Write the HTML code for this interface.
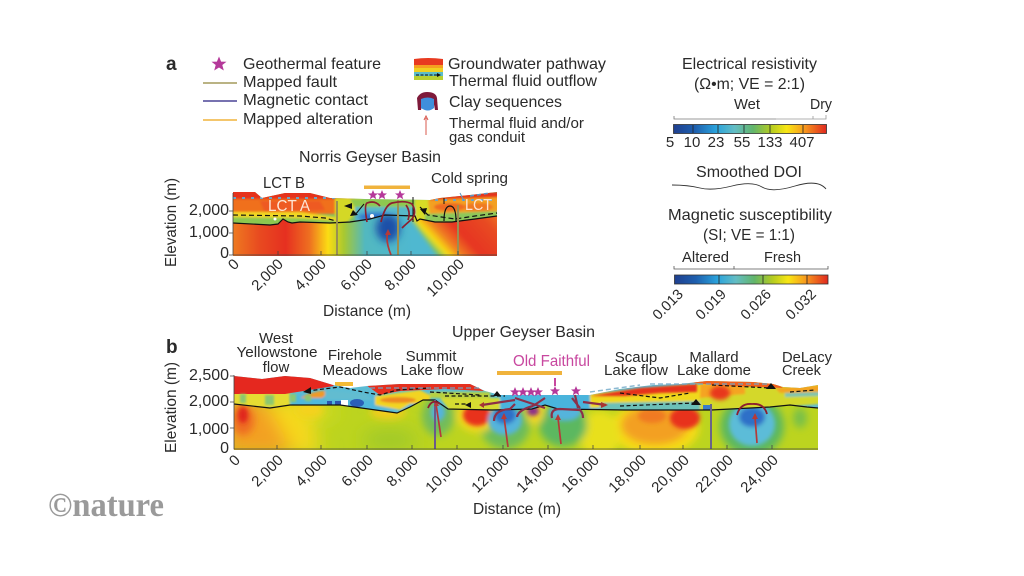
<!DOCTYPE html>
<html><head><meta charset="utf-8"><style>
html,body{margin:0;padding:0;background:#fff}
svg{display:block}
text{font-family:"Liberation Sans",sans-serif;font-size:16px;fill:#2a2a2a}
.m{font-size:15px}
.t text{font-size:15px}
.u text{font-size:14.5px}
</style></head><body>
<svg width="1024" height="576" viewBox="0 0 1024 576" xmlns="http://www.w3.org/2000/svg">
<defs>
<linearGradient id="cb"><stop offset="0" stop-color="#1f3f8f"/><stop offset=".14" stop-color="#1e5fae"/><stop offset=".28" stop-color="#2aa3dc"/><stop offset=".4" stop-color="#63bdc4"/><stop offset=".52" stop-color="#62b56b"/><stop offset=".64" stop-color="#b5cc20"/><stop offset=".74" stop-color="#f8e614"/><stop offset=".86" stop-color="#f7961e"/><stop offset="1" stop-color="#e0281f"/></linearGradient>
<linearGradient id="abg"><stop offset="0" stop-color="#ef7a20"/><stop offset=".1" stop-color="#e84a20"/><stop offset=".2" stop-color="#e63020"/><stop offset=".29" stop-color="#ee7020"/><stop offset=".36" stop-color="#fbdc14"/><stop offset=".42" stop-color="#a8c830"/><stop offset=".5" stop-color="#52b8c0"/><stop offset=".68" stop-color="#4fb8d0"/><stop offset="1" stop-color="#4fb8d0"/></linearGradient>
<linearGradient id="adg" x1="418" y1="232" x2="478" y2="177" gradientUnits="userSpaceOnUse"><stop offset="0" stop-color="#7cc060"/><stop offset=".08" stop-color="#f8e014"/><stop offset=".2" stop-color="#f08020"/><stop offset=".38" stop-color="#e63420"/><stop offset=".7" stop-color="#e84a20"/><stop offset="1" stop-color="#f09020"/></linearGradient>
<filter id="b2" x="-30%" y="-30%" width="160%" height="160%"><feGaussianBlur stdDeviation="2"/></filter>
<filter id="b1" x="-30%" y="-30%" width="160%" height="160%"><feGaussianBlur stdDeviation="1"/></filter>
<filter id="b4" x="-50%" y="-50%" width="200%" height="200%"><feGaussianBlur stdDeviation="4"/></filter>
<filter id="b9" x="-60%" y="-60%" width="220%" height="220%"><feGaussianBlur stdDeviation="9"/></filter>
<clipPath id="ca"><path d="M233,192 L255,192 262,198 285,193 310,193 330,198 365,199 430,200 440,198 470,195 497,192 497,255 233,255Z"/></clipPath>
<clipPath id="cal"><path d="M233,223 L270,225 278,224 283,219 288,222 292,223 300,222 330,223 350,222 370,219 385,215 415,216 417,221 420,219 425,220 435,222 452,222 475,219 497,216 V256 H233Z"/></clipPath>
<clipPath id="cb1"><path d="M234,376 262,379 285,376 310,378 333,385 350,388 367,386 400,384 470,384 485,391 500,395 590,395 620,389 653,385 680,384 707,381 753,382 773,384 783,387 800,388 818,385 818,449 234,449Z"/></clipPath>
<clipPath id="cbl"><path d="M234,404 270,408 290,405 340,405 397,413 410,407 423,400 435,400 448,409 492,410 532,409 545,405 558,409 625,410 711,410 770,407 790,405 807,407 818,408 V450 H234Z"/></clipPath>
<path id="s" d="M0,-5 L1.4,-1.6 5,-1.5 2.2,0.7 3.2,4.3 0,2.3 -3.2,4.3 -2.2,0.7 -5,-1.5 -1.4,-1.6Z" fill="#b5399a"/>
</defs>

<!-- Legend a -->
<text x="166" y="70" style="font-weight:bold;font-size:19px">a</text>
<use href="#s" transform="translate(219,64) scale(1.5)"/>
<line x1="203" y1="83" x2="237" y2="83" stroke="#a39a5c" stroke-width="1.5"/>
<line x1="203" y1="101" x2="237" y2="101" stroke="#4a4396" stroke-width="1.5"/>
<line x1="203" y1="120" x2="237" y2="120" stroke="#f0b33c" stroke-width="1.5"/>
<text x="243" y="69" textLength="138" lengthAdjust="spacingAndGlyphs">Geothermal feature</text>
<text x="243" y="87" textLength="94" lengthAdjust="spacingAndGlyphs">Mapped fault</text>
<text x="243" y="105" textLength="125" lengthAdjust="spacingAndGlyphs">Magnetic contact</text>
<text x="243" y="124" textLength="130" lengthAdjust="spacingAndGlyphs">Mapped alteration</text>
<path d="M414,59 Q428,57 443,59 V80 H414Z" fill="#e83a20"/>
<rect x="414" y="65" width="29" height="4" fill="#f5a020"/>
<rect x="414" y="68" width="29" height="4" fill="#f0d020"/>
<rect x="414" y="72" width="29" height="4" fill="#5cbcc8"/>
<rect x="414" y="76" width="29" height="4" fill="#b8d030"/>
<line x1="416" y1="75" x2="438" y2="75" stroke="#111" stroke-width="1" stroke-dasharray="3 1.5"/>
<path d="M437,73 L441,75 437,77Z" fill="#111"/>
<path d="M418,110 L417,98 Q420,92 427,92 Q436,92 437,98 L438,110 L435,110 L433,99 L423,99 L421,110Z" fill="#7e1a3a"/>
<path d="M421,99 Q428,96 434,99 L434,108 Q428,113 421,108Z" fill="#3f8fdc"/>
<path d="M426,135 L426,118" stroke="#d8584e" stroke-width="1"/><path d="M424,120 L426,116 428,120" fill="none" stroke="#d8584e"/>
<text x="448" y="69" textLength="158" lengthAdjust="spacingAndGlyphs">Groundwater pathway</text>
<text x="449" y="86" textLength="148" lengthAdjust="spacingAndGlyphs">Thermal fluid outflow</text>
<text x="449" y="107" textLength="113" lengthAdjust="spacingAndGlyphs">Clay sequences</text>
<text x="449" y="128" textLength="135" lengthAdjust="spacingAndGlyphs" class="m">Thermal fluid and/or</text>
<text x="449" y="142" textLength="76" lengthAdjust="spacingAndGlyphs" class="m">gas conduit</text>

<!-- Panel a plot -->
<text x="299" y="162" textLength="142" lengthAdjust="spacingAndGlyphs">Norris Geyser Basin</text>
<text x="263" y="188" textLength="42" lengthAdjust="spacingAndGlyphs">LCT B</text>
<text x="431" y="183" textLength="77" lengthAdjust="spacingAndGlyphs" class="m">Cold spring</text>
<g clip-path="url(#ca)">
 <rect x="233" y="190" width="264" height="66" fill="#7cc068"/>
 <g filter="url(#b1)">
  <path d="M225,188 H345 L355,199 L340,214 L300,214 225,213Z" fill="#f0701f"/>
  <rect x="225" y="188" width="130" height="11" fill="#e5301f"/>
  <path d="M260,201 H320 L325,210 L265,213Z" fill="#ee5a20"/>
  <path d="M225,212 H300 L335,217 L335,224 H225Z" fill="#f2d820"/>
  <path d="M225,217 L300,218 340,221 V225 H225Z" fill="#8cc850"/>
  <path d="M335,198 H362 L362,206 L345,225 H335Z" fill="#d4d828"/>
  <path d="M350,199 H420 V208 L355,208Z" fill="#8ec850"/>
  <path d="M355,207 H415 V222 H355Z" fill="#58b8c8"/>
  <path d="M415,199 H440 L440,222 H415Z" fill="#d8dc28"/>
  <path d="M430,192 H500 V200 H430Z" fill="#e5301f"/>
  <path d="M428,200 L500,197 V219 L430,216Z" fill="#f3a020"/>
  <ellipse cx="450" cy="207" rx="16" ry="4" fill="#ee6a20"/>
  <ellipse cx="478" cy="207" rx="15" ry="4" fill="#f07a20"/>
  <path d="M425,214 L500,211 V222 L425,224Z" fill="#8cc85a"/>
 </g>
 <ellipse cx="378" cy="217" rx="20" ry="4" fill="#2c6fd0" filter="url(#b2)"/>
 <path d="M233,198 H340 M435,200 H497" stroke="#6fa4c4" stroke-width="2" stroke-dasharray="3 6"/>
</g>
<g clip-path="url(#cal)">
 <rect x="233" y="210" width="264" height="46" fill="url(#abg)"/>
 <path d="M405,210 H505 V262 H442Z" fill="url(#adg)" filter="url(#b2)"/>
 <ellipse cx="388" cy="228" rx="12" ry="14" fill="#1f4fa8" filter="url(#b4)"/>
</g>
<circle cx="372" cy="216" r="2" fill="#fff"/><circle cx="275" cy="219" r="1.500" fill="#fff"/>
<path d="M233,223 L270,225 278,224 283,219 288,222 292,223 300,222 330,223 350,222 370,219 385,215 415,216 417,221 420,219 425,220 435,222 452,222 475,219 497,216" fill="none" stroke="#111" stroke-width="1.2"/>
<path d="M233,215 L300,216 325,218 336,221 M420,207 L428,215 455,219 475,216 497,213" fill="none" stroke="#111" stroke-width="1.2" stroke-dasharray="5 3"/>
<path d="M444,221 Q444,206 450,206 Q456,206 456,221" fill="none" stroke="#111" stroke-width="1.2"/>
<path d="M413,197 V222 M444,198 V204" stroke="#111" stroke-width="1"/>
<path d="M337,201V255M398,200V255M458,205V255" stroke="#9a8f52" stroke-width="2"/>
<path d="M364,204 L355,215" fill="none" stroke="#111" stroke-width="1"/>
<path d="M344,206 L352,203 352,209Z M350,216 L358,215 353,210Z M425,215 L427,208 420,209Z" fill="#111"/>
<path d="M460,193 L464,201" stroke="#5a9ac8" stroke-width="1"/>
<path d="M470,196 L490,193" stroke="#5a9ac8" stroke-width="1.500" stroke-dasharray="4 3"/>
<path d="M367,222 Q364,205 367,203 Q375,200 380,206 M381,222 Q385,205 392,203 Q405,200 412,204 Q417,212 412,219 Q405,225 402,228 M406,205 Q411,212 408,220" fill="none" stroke="#8c1f2f" stroke-width="1.700"/>
<path d="M391,255 Q385,240 388,232" fill="none" stroke="#b53a38" stroke-width="1.700"/><path d="M385,235 L388,229 391,235Z" fill="#b53a38"/>
<rect x="364" y="185.500" width="46" height="3.500" fill="#f0b33c"/>
<use href="#s" transform="translate(373,195)"/><use href="#s" transform="translate(382,195)"/><use href="#s" transform="translate(400,195)"/>
<text x="268" y="211" textLength="42" lengthAdjust="spacingAndGlyphs" style="fill:#fde4d4">LCT A</text>
<text x="465" y="210" textLength="27" lengthAdjust="spacingAndGlyphs" style="fill:#fde4d4">LCT</text>
<path d="M233,193V255H497M229,211H233M229,233H233M229,255H233M278,251V255M321,251V255M367,251V255M411,251V255M458,251V255" fill="none" stroke="#444" stroke-width=".8"/>
<g text-anchor="end"><text x="229" y="215" textLength="40">2,000</text><text x="229" y="237" textLength="40">1,000</text><text x="229" y="258">0</text></g>
<text transform="translate(176,267) rotate(-90)" textLength="89" lengthAdjust="spacingAndGlyphs">Elevation (m)</text>
<g text-anchor="end" class="t">
<text transform="translate(240,265) rotate(-45)">0</text>
<text transform="translate(284,265) rotate(-45)">2,000</text>
<text transform="translate(327,265) rotate(-45)">4,000</text>
<text transform="translate(373,265) rotate(-45)">6,000</text>
<text transform="translate(417,265) rotate(-45)">8,000</text>
<text transform="translate(465,265) rotate(-45)">10,000</text>
</g>
<text x="323" y="316" textLength="88" lengthAdjust="spacingAndGlyphs">Distance (m)</text>

<!-- Right legends -->
<text x="682" y="69" textLength="135" lengthAdjust="spacingAndGlyphs">Electrical resistivity</text>
<text x="694" y="89" textLength="111" lengthAdjust="spacingAndGlyphs">(Ω•m; VE = 2:1)</text>
<text x="734" y="109" textLength="26" lengthAdjust="spacingAndGlyphs" class="m">Wet</text>
<text x="810" y="109" textLength="22" lengthAdjust="spacingAndGlyphs" class="m">Dry</text>
<path d="M674,116V119H776" fill="none" stroke="#777" stroke-width=".8"/><path d="M776,119H826V115M813,119V116" fill="none" stroke="#999" stroke-width=".8"/>
<rect x="673.500" y="124.500" width="153" height="9" fill="url(#cb)" stroke="#333" stroke-width=".8"/>
<path d="M693,125V133M718,125V133M744,125V133M770,125V133M803,125V133" stroke="#222" stroke-width=".8"/>
<g text-anchor="middle"><text class="m" x="670" y="147">5</text><text class="m" x="692" y="147">10</text><text class="m" x="716" y="147">23</text><text class="m" x="742" y="147">55</text><text class="m" x="770" y="147">133</text><text class="m" x="802" y="147">407</text></g>
<text x="696" y="177" textLength="106" lengthAdjust="spacingAndGlyphs">Smoothed DOI</text>
<path d="M672,185 Q688,185 700,188 T732,186 T762,187 T795,186 T826,189" fill="none" stroke="#333" stroke-width=".9"/>
<text x="668" y="220" textLength="164" lengthAdjust="spacingAndGlyphs">Magnetic susceptibility</text>
<text x="703" y="240" textLength="92" lengthAdjust="spacingAndGlyphs">(SI; VE = 1:1)</text>
<text x="682" y="262" textLength="47" lengthAdjust="spacingAndGlyphs" class="m">Altered</text>
<text x="764" y="262" textLength="37" lengthAdjust="spacingAndGlyphs" class="m">Fresh</text>
<path d="M674,266V269H828V266M734,266V269" fill="none" stroke="#555" stroke-width=".8"/>
<rect x="674.500" y="275" width="153.500" height="9" fill="url(#cb)" stroke="#333" stroke-width=".8"/>
<path d="M719,275V284M763,275V284M807,275V284" stroke="#222" stroke-width=".8"/>
<g text-anchor="end" class="u"><text transform="translate(684,295) rotate(-45)">0.013</text><text transform="translate(727,295) rotate(-45)">0.019</text><text transform="translate(772,295) rotate(-45)">0.026</text><text transform="translate(817,295) rotate(-45)">0.032</text></g>

<!-- Panel b labels -->
<text x="166" y="353" style="font-weight:bold;font-size:19px">b</text>
<text x="452" y="337" textLength="143" lengthAdjust="spacingAndGlyphs">Upper Geyser Basin</text>
<g text-anchor="middle">
<text class="m" x="276" y="343">West</text><text class="m" x="277" y="357" textLength="81" lengthAdjust="spacingAndGlyphs">Yellowstone</text><text class="m" x="276" y="372">flow</text>
<text class="m" x="355" y="360">Firehole</text><text class="m" x="355" y="375" textLength="65" lengthAdjust="spacingAndGlyphs">Meadows</text>
<text class="m" x="431" y="361">Summit</text><text class="m" x="432" y="375" textLength="63" lengthAdjust="spacingAndGlyphs">Lake flow</text>
<text class="m" x="636" y="362">Scaup</text><text class="m" x="636" y="375" textLength="64" lengthAdjust="spacingAndGlyphs">Lake flow</text>
<text class="m" x="714" y="362">Mallard</text><text class="m" x="714" y="375" textLength="74" lengthAdjust="spacingAndGlyphs">Lake dome</text>
</g>
<text x="782" y="362" textLength="50" lengthAdjust="spacingAndGlyphs" class="m">DeLacy</text>
<text x="782" y="375" textLength="39" lengthAdjust="spacingAndGlyphs" class="m">Creek</text>
<text x="513" y="366" textLength="77" lengthAdjust="spacingAndGlyphs" style="fill:#c8479f">Old Faithful</text>

<!-- Panel b plot -->
<rect x="497" y="371" width="65" height="4" fill="#f0b33c"/>
<rect x="335" y="382" width="18" height="4" fill="#f3bb36"/>
<path d="M555,378V386" stroke="#c8479f" stroke-width="2"/>
<g clip-path="url(#cb1)">
 <rect x="234" y="374" width="584" height="76" fill="#5cbcd4"/>
 <g filter="url(#b1)">
  <rect x="225" y="392" width="65" height="16" fill="#e6dc30"/>
  <path d="M292,395 H420 V410 H292Z" fill="#50b8dc"/>
  <path d="M300,398 Q320,388 330,392 L322,398Z" fill="#ef9a26"/>
  <path d="M325,390 L365,394 375,400 325,400Z" fill="#62bcd0"/>
  <path d="M375,396 L420,390 430,395 430,404 410,404 400,410 375,405Z" fill="#f2d424"/>
  <ellipse cx="398" cy="400" rx="18" ry="3" fill="#ee8a24"/>
  <path d="M430,392 H490 V398 H430Z" fill="#b8d040"/>
  <path d="M440,398 H500 V411 H450Z" fill="#d6dc30"/>
  <path d="M500,394 H600 V411 H500Z" fill="#4ab4dc"/>
  <path d="M590,394 L700,384 V402 L590,408Z" fill="#f0d81f"/>
  <path d="M600,403 L710,401 V411 H600Z" fill="#6cc0b8"/>
  <path d="M700,380 H820 V404 L770,408 700,411Z" fill="#d4d82a"/>
  <path d="M700,384 L745,384 V394 L700,398Z" fill="#f5a422"/>
  <path d="M775,388 L820,385 V392 L780,393Z" fill="#f3a424"/>
  <path d="M785,393 L820,392 V396 L785,397Z" fill="#7cc4b0"/>
 </g>
 <ellipse cx="720" cy="393" rx="10" ry="7" fill="#e8381f" filter="url(#b2)"/>
 <path d="M222,372 H320 L334,386 L285,394 H222Z" fill="#e5281f"/>
 <path d="M240,394 h6 v9 h-6Z M265,395 h9 v10 h-9Z M290,394 h6 v8 h-6Z M305,395 h6 v6 h-6Z" fill="#8cc870" filter="url(#b1)"/>
 <path d="M366,385 L420,383 470,383 484,391 445,389 400,391 380,395Z" fill="#e5301f"/>
 <path d="M590,396 L640,388 697,384 697,392 660,393 625,396Z" fill="#e5301f" filter="url(#b1)"/>
 <path d="M680,381 L773,381 783,388 712,385Z" fill="#f0601f"/>
 <rect x="327" y="401" width="5" height="6" fill="#2a55b0"/><rect x="335" y="401" width="6" height="6" fill="#2a55b0"/><rect x="341" y="400" width="7" height="7" fill="#fff"/><ellipse cx="357" cy="403" rx="7" ry="4" fill="#2a5fb8"/>
 <rect x="703" y="405" width="8" height="6" fill="#3a7cc8"/>
</g>
<g clip-path="url(#cbl)">
 <rect x="234" y="400" width="584" height="50" fill="#bcd41f"/>
 <g filter="url(#b9)">
  <path d="M225,400 H268 L300,455 H225Z" fill="#f3a020"/>
  <path d="M265,400 H310 L320,455 H295Z" fill="#f6d81a"/>
  <ellipse cx="390" cy="440" rx="28" ry="10" fill="#9cc82c"/>
  <ellipse cx="320" cy="412" rx="18" ry="8" fill="#d4dc20"/>
 </g>
 <g filter="url(#b4)">
  <ellipse cx="243" cy="420" rx="11" ry="15" fill="#ee6a20"/>
  <ellipse cx="310" cy="410" rx="14" ry="8" fill="#f5d21c"/>
  <ellipse cx="388" cy="412" rx="18" ry="7" fill="#f6cc1c"/>
  <ellipse cx="655" cy="428" rx="44" ry="27" fill="#f7dc18"/>
  <ellipse cx="600" cy="435" rx="20" ry="24" fill="#e8e01a"/>
  <ellipse cx="655" cy="425" rx="34" ry="20" fill="#f3a020"/>
  <ellipse cx="752" cy="426" rx="32" ry="30" fill="#5cb860"/>
  <ellipse cx="438" cy="416" rx="16" ry="20" fill="#72bc5c"/>
  <ellipse cx="505" cy="425" rx="25" ry="24" fill="#6cbc5c"/>
  <ellipse cx="563" cy="425" rx="24" ry="22" fill="#5cb860"/>
  <ellipse cx="477" cy="415" rx="20" ry="17" fill="#f8d81a"/>
  <ellipse cx="535" cy="412" rx="9" ry="12" fill="#f8d81a"/>
  <ellipse cx="800" cy="418" rx="7" ry="10" fill="#78c048"/>
 </g>
 <g filter="url(#b2)">
  <ellipse cx="243" cy="415" rx="5" ry="8" fill="#e0281f"/>
  <ellipse cx="477" cy="415" rx="14" ry="11" fill="#e8301f"/>
  <ellipse cx="685" cy="418" rx="15" ry="11" fill="#e8301f"/>
  <ellipse cx="652" cy="416" rx="14" ry="7" fill="#f07a20"/>
  <ellipse cx="752" cy="424" rx="23" ry="22" fill="#5cbcd8"/>
  <ellipse cx="752" cy="417" rx="13" ry="10" fill="#2e6fc8"/>
  <ellipse cx="438" cy="412" rx="7" ry="9" fill="#55b4dc"/>
  <ellipse cx="505" cy="420" rx="17" ry="15" fill="#55b4dc"/>
  <ellipse cx="505" cy="415" rx="11" ry="9" fill="#2e6fc8"/>
  <ellipse cx="533" cy="411" rx="6" ry="5" fill="#8c2f8c"/>
  <ellipse cx="565" cy="412" rx="16" ry="9" fill="#55b4dc"/>
 </g>
</g>
<path d="M234,404 270,408 290,405 340,405 397,413 410,407 423,400 435,400 448,409 492,410 532,409 545,405 558,409 625,410 711,410 770,407 790,405 807,407 818,408" fill="none" stroke="#111" stroke-width="1.2"/>
<path d="M307,391 L340,387 363,392 380,395 397,390 430,388 M430,392 L480,395 M445,396 H505 M455,404 H470 M620,393 L660,398 690,393 M620,406 L695,403 M712,385 L770,388 M790,392 L815,390" fill="none" stroke="#111" stroke-width="1.2" stroke-dasharray="4 2.500"/>
<path d="M370,388 H480 M590,392 L640,385 M650,384 H770" fill="none" stroke="#6fa8c8" stroke-width="1.500" stroke-dasharray="5 3" opacity=".8"/>
<path d="M303,392 L311,387 311,394Z M465,405 L471,402 471,408Z M691,405 L696,399 701,405Z M766,389 L771,383 776,389Z M493,396 H501 L497,391Z" fill="#111"/>
<path d="M435,449V400" stroke="#6b5a8c" stroke-width="2"/>
<path d="M711,449V404" stroke="#6a6488" stroke-width="2"/>
<path d="M441,437 L436,404" stroke="#b53a38" stroke-width="1.700"/><path d="M434,406 L436,401 439,406Z" fill="#b53a38"/>
<path d="M508,447 L504,417" stroke="#b53a38" stroke-width="1.700"/><path d="M501,419 L504,413 507,419Z" fill="#b53a38"/>
<path d="M561,444 L558,418" stroke="#b53a38" stroke-width="1.700"/><path d="M555,420 L558,414 561,420Z" fill="#b53a38"/>
<path d="M757,443 L755,417" stroke="#b53a38" stroke-width="1.700"/><path d="M752,419 L755,413 758,419Z" fill="#b53a38"/>
<path d="M737,415 Q740,403 752,404 Q764,403 767,414" fill="none" stroke="#8c1f2f" stroke-width="1.800"/>
<path d="M428,408 Q432,398 440,404" fill="none" stroke="#8c1f2f" stroke-width="1.800"/>
<path d="M494,421 Q494,410 510,409 L515,404 M517,417 Q518,410 533,406 M552,418 Q550,409 560,409 L580,410 Q583,413 583,418 M580,408 L572,398 M575,395 L578,408 M482,405 L515,400 M515,398 L545,408 M545,398 L533,406 M583,402 L606,405" fill="none" stroke="#8c2f48" stroke-width="2.200"/>
<path d="M601,402 L608,405 601,408Z M484,402 L484,408 479,405Z" fill="#a83532"/>
<use href="#s" transform="translate(515,392)"/><use href="#s" transform="translate(523,392)"/><use href="#s" transform="translate(531,392)"/><use href="#s" transform="translate(538,392)"/><use href="#s" transform="translate(555,391)"/><use href="#s" transform="translate(576,391)"/>
<path d="M234,375V449H818M230,376H234M230,402H234M230,428H234M277,445V449M321,445V449M367,445V449M412,445V449M457,445V449M503,445V449M548,445V449M593,445V449M640,445V449M683,445V449M727,445V449M772,445V449" fill="none" stroke="#444" stroke-width=".8"/>
<g text-anchor="end"><text x="229" y="380" textLength="40">2,500</text><text x="229" y="406" textLength="40">2,000</text><text x="229" y="434" textLength="40">1,000</text><text x="229" y="453">0</text></g>
<text transform="translate(176,453) rotate(-90)" textLength="91" lengthAdjust="spacingAndGlyphs">Elevation (m)</text>
<g text-anchor="end" class="t">
<text transform="translate(241,461) rotate(-45)">0</text>
<text transform="translate(284,461) rotate(-45)">2,000</text>
<text transform="translate(328,461) rotate(-45)">4,000</text>
<text transform="translate(374,461) rotate(-45)">6,000</text>
<text transform="translate(419,461) rotate(-45)">8,000</text>
<text transform="translate(464,461) rotate(-45)">10,000</text>
<text transform="translate(510,461) rotate(-45)">12,000</text>
<text transform="translate(555,461) rotate(-45)">14,000</text>
<text transform="translate(600,461) rotate(-45)">16,000</text>
<text transform="translate(647,461) rotate(-45)">18,000</text>
<text transform="translate(690,461) rotate(-45)">20,000</text>
<text transform="translate(734,461) rotate(-45)">22,000</text>
<text transform="translate(779,461) rotate(-45)">24,000</text>
</g>
<text x="473" y="514" textLength="88" lengthAdjust="spacingAndGlyphs">Distance (m)</text>
<text x="48" y="516" textLength="116" lengthAdjust="spacingAndGlyphs" style="font-family:'Liberation Serif',serif;font-weight:bold;font-size:34px;fill:#9a9a9a">©nature</text>
</svg>
</body></html>
